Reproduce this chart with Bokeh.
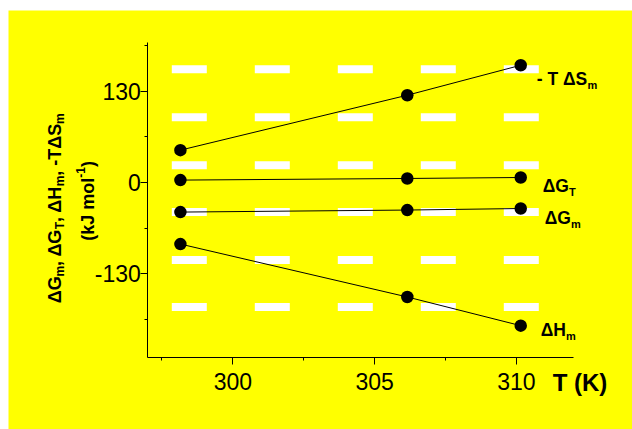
from bokeh.plotting import figure
from bokeh.models import FixedTicker, Label, Range1d, Spacer
from bokeh.layouts import column, row
from bokeh.embed import file_html
from bokeh.resources import INLINE

# ---- data ----
T = [298.15, 306.15, 310.15]
minus_TdS = [46.0, 124.3, 167.0]
dG_T = [3.3, 5.6, 7.0]
dG_m = [-42.3, -39.4, -37.2]
dH_m = [-87.9, -163.3, -204.2]

x_ticks = [300, 305, 310]
x_tick_labels = ["300", "305", "310"]
x_minor = [297.5, 302.5, 307.5]
y_ticks = [-130, 0, 130]
y_tick_labels = ["-130", "0", "130"]
y_minor = [-195, -65, 65, 195]
band_levels = [161.3, 93.0, 24.6, -42.3, -110.7, -177.6]

X_LO, X_HI = 297, 312      # extent of the drawn axes
Y_LO, Y_HI = -250, 200

YELLOW = "#FFFF00"
FONT = "Liberation Sans"

# figure size and where the axes box sits inside it (px)
FW, FH = 624, 419
AX_L, AX_R, AX_T, AX_B = 139.3, 564.7, 31.6, 347.3
sx = (AX_R - AX_L) / (X_HI - X_LO)
sy = (AX_B - AX_T) / (Y_HI - Y_LO)
x_range = Range1d(X_LO - AX_L / sx, X_HI + (FW - AX_R) / sx)
y_range = Range1d(Y_LO - (FH - AX_B) / sy, Y_HI + AX_T / sy)

# approximate Arial-Bold advance widths (em)
W = {"Δ": 0.70, "G": 0.778, "H": 0.722, "S": 0.667, "T": 0.611, "m": 0.889,
     ",": 0.278, " ": 0.278, "-": 0.333, "(": 0.333, ")": 0.333, "k": 0.556,
     "J": 0.556, "o": 0.611, "l": 0.278, "1": 0.556}


def tw(s, size):
    return sum(W.get(c, 0.6) for c in s) * size


p = figure(width=FW, height=FH, output_backend="svg", toolbar_location=None,
           x_range=x_range, y_range=y_range, min_border=0,
           background_fill_color=YELLOW, border_fill_color=YELLOW,
           outline_line_color=None)
p.grid.visible = False

for ax, ticks, minor, labels, loc, bnds in (
        (p.xaxis, x_ticks, x_minor, x_tick_labels, Y_LO, (X_LO, X_HI)),
        (p.yaxis, y_ticks, y_minor, y_tick_labels, X_LO, (Y_LO, Y_HI))):
    ax.ticker = FixedTicker(ticks=ticks, minor_ticks=minor)
    ax.major_label_overrides = {t: l for t, l in zip(ticks, labels)}
    ax.fixed_location = loc
    ax.bounds = bnds
    ax.major_label_text_font = FONT
    ax.major_label_text_font_size = "23px"
    ax.major_label_text_color = "black"
    ax.axis_line_color = "black"
    ax.axis_line_width = 1
    ax.major_tick_line_color = "black"
    ax.minor_tick_line_color = "black"
    ax.major_tick_in = 0
    ax.major_tick_out = 7
    ax.minor_tick_in = 0
    ax.minor_tick_out = 3
p.xaxis.major_label_standoff = 8
p.yaxis.major_label_standoff = 0

# white dashed bands
p.segment(x0=X_LO, x1=X_HI, y0=band_levels, y1=band_levels, line_color="white",
          line_width=8, line_dash="35 48", line_dash_offset=59)

series = [minus_TdS, dG_T, dG_m, dH_m]
for s in series:
    p.line(T, s, line_color="black", line_width=1)
    p.scatter(T, s, size=12.5, marker="circle", fill_color="black",
              line_color="black", line_width=0)


def label(x, y, text, dx, dy, size, angle=0):
    p.add_layout(Label(x=x, y=y, text=text, x_offset=dx, y_offset=dy,
                       text_font=FONT, text_font_size=f"{size}px",
                       text_font_style="bold", text_color="black",
                       text_align="left", text_baseline="alphabetic",
                       angle=angle, angle_units="deg"))


# series names next to last points: (series, main, sub, dx, dy)
MAIN, SUB = 17.5, 11
names = [(minus_TdS, "- T ΔS", "m", 16, -14),
         (dG_T, "ΔG", "T", 22, -8.5),
         (dG_m, "ΔG", "m", 24, -9),
         (dH_m, "ΔH", "m", 20, -4.5)]
for s, main, sub, dx, dy in names:
    label(T[-1], s[-1], main, dx, dy, MAIN)
    label(T[-1], s[-1], sub, dx + tw(main, MAIN) + 0.5, dy - 6, SUB)

# x axis title
label(X_HI, Y_LO, "T (K)", -20.5, -25, 24)

# rotated y axis title, two lines built from pieces
TF, TS = 18, 12
line1 = [("ΔG", 0), ("m", 1), (", ΔG", 0), ("T", 1), (", ΔH", 0), ("m", 1),
         (", -TΔS", 0), ("m", 1)]
line2 = [("(kJ mol", 0), ("-1", 2), (")", 0)]


def rotated(pieces, base_dx, center_dy):
    sizes = {0: TF, 1: TS, 2: TS}
    shifts = {0: 0, 1: 5, 2: -7}
    total = sum(tw(t, sizes[k]) for t, k in pieces)
    pos = center_dy - total / 2
    for t, k in pieces:
        label(X_LO, 0, t, base_dx + shifts[k], pos, sizes[k], angle=90)
        pos += tw(t, sizes[k])


rotated(line1, -92.4, -25.9)
rotated(line2, -60.1, -18.4)

page = column(Spacer(height=10), row(Spacer(width=8), p))
open("out.html", "w").write(file_html(page, INLINE))
